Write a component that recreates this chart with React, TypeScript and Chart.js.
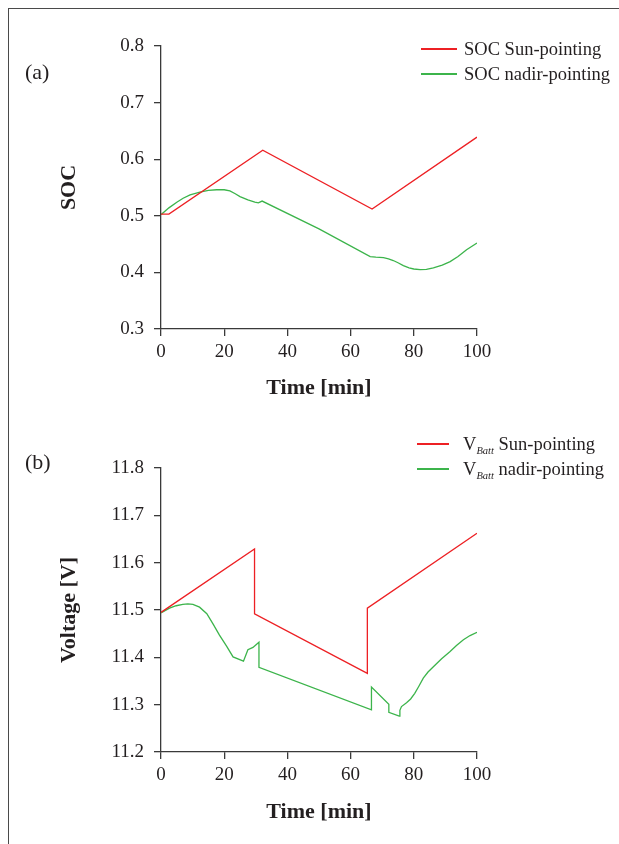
import React, { useEffect, useRef } from "react";
import { Chart, registerables } from "chart.js";

Chart.register(...registerables);

// ---------- data ----------
const timeTicks = [0, 20, 40, 60, 80, 100];
const socTickValues = [0.3, 0.4, 0.5, 0.6, 0.7, 0.8];
const voltTickValues = [11.2, 11.3, 11.4, 11.5, 11.6, 11.7, 11.8];

const socSunT = [0, 2.5, 32.2, 66.8, 100];
const socSunV = [0.503, 0.503, 0.616, 0.512, 0.639];

const socNadirT = [0, 2.5, 5, 7, 9.2, 12.3, 15, 17.6, 20, 21.8, 23.5, 25, 27.5, 29.7, 30.8, 32, 50, 66.2, 68, 70.4, 72, 73.5, 75, 76.7, 78.5, 80, 82, 84, 86.2, 89, 91.5, 94, 96.7, 100];
const socNadirV = [0.502, 0.514, 0.524, 0.531, 0.537, 0.542, 0.545, 0.546, 0.546, 0.544, 0.539, 0.534, 0.528, 0.524, 0.523, 0.526, 0.477, 0.428, 0.427, 0.426, 0.424, 0.421, 0.417, 0.412, 0.408, 0.406, 0.405, 0.4055, 0.408, 0.413, 0.419, 0.428, 0.44, 0.452];

const vSunT = [0, 29.6, 29.6, 65.3, 65.3, 100];
const vSunV = [11.495, 11.629, 11.492, 11.366, 11.504, 11.662];

const vNadirT = [0, 2.7, 4.8, 6.9, 8.5, 10.1, 12.2, 14.5, 16.5, 18.5, 20.7, 22.8, 26.1, 27.5, 29.1, 31, 31, 66.6, 66.6, 72.1, 72.1, 75.4, 75.6, 76.1, 77.7, 79, 80.3, 81.6, 83, 84.5, 86.2, 88.8, 91.4, 93.5, 95.7, 97.8, 100];
const vNadirV = [11.494, 11.504, 11.509, 11.512, 11.513, 11.512, 11.506, 11.492, 11.47, 11.447, 11.424, 11.401, 11.392, 11.416, 11.421, 11.432, 11.379, 11.289, 11.337, 11.301, 11.284, 11.276, 11.288, 11.296, 11.304, 11.312, 11.324, 11.339, 11.356, 11.369, 11.38, 11.397, 11.412, 11.425, 11.437, 11.446, 11.453];

// ---------- styles ----------
const RED = "#ed2024";
const GREEN = "#3cb44b";
const AXIS = "#3a3a3a";
const TEXT = "#231f20";
const FONT = "'Liberation Serif', 'DejaVu Serif', serif";

const toPoints = (t: number[], v: number[]) => t.map((x, i) => ({ x, y: v[i] }));

type PanelOpts = {
  width: number;
  height: number;
  sunT: number[];
  sunV: number[];
  nadirT: number[];
  nadirV: number[];
  yTicks: number[];
  yTitle: string;
  padTop: number;
  yTitlePad: number;
  xScaleHeight: number;
  padBottom: number;
};

function makeConfig(o: PanelOpts): any {
  const yMin = o.yTicks[0];
  const yMax = o.yTicks[o.yTicks.length - 1];
  return {
    type: "line",
    data: {
      datasets: [
        {
          label: "Sun-pointing",
          data: toPoints(o.sunT, o.sunV),
          borderColor: RED,
          borderWidth: 1.3,
          pointRadius: 0,
          tension: 0,
          fill: false,
        },
        {
          label: "nadir-pointing",
          data: toPoints(o.nadirT, o.nadirV),
          borderColor: GREEN,
          borderWidth: 1.3,
          pointRadius: 0,
          tension: 0,
          fill: false,
        },
      ],
    },
    options: {
      animation: false,
      responsive: false,
      parsing: false,
      layout: { padding: { left: 20, right: 142, top: o.padTop, bottom: o.padBottom } },
      plugins: { legend: { display: false }, tooltip: { enabled: false } },
      scales: {
        x: {
          type: "linear",
          min: timeTicks[0],
          max: timeTicks[timeTicks.length - 1],
          afterBuildTicks: (s: any) => {
            s.ticks = timeTicks.map((v) => ({ value: v }));
          },
          afterFit: (s: any) => {
            s.height = o.xScaleHeight;
          },
          grid: { drawOnChartArea: false, drawTicks: true, tickLength: 7, color: AXIS, lineWidth: 1.3 },
          border: { display: true, color: AXIS, width: 1.3 },
          ticks: {
            padding: 5,
            color: TEXT,
            font: { family: FONT, size: 19 },
            maxRotation: 0,
            callback: (v: any) => String(v),
          },
          title: {
            display: true,
            text: "Time [min]",
            color: TEXT,
            font: { family: FONT, size: 22, weight: "bold" },
            padding: { top: 0, bottom: 0 },
          },
        },
        y: {
          type: "linear",
          min: yMin,
          max: yMax,
          afterBuildTicks: (s: any) => {
            s.ticks = o.yTicks.map((v) => ({ value: v }));
          },
          afterFit: (s: any) => {
            s.width = 141;
          },
          grid: { drawOnChartArea: false, drawTicks: true, tickLength: 7, color: AXIS, lineWidth: 1.3 },
          border: { display: true, color: AXIS, width: 1.3 },
          ticks: {
            padding: 10,
            color: TEXT,
            font: { family: FONT, size: 19 },
            callback: (v: any) => Number(v).toFixed(1),
          },
          title: {
            display: true,
            text: o.yTitle,
            color: TEXT,
            font: { family: FONT, size: 22, weight: "bold" },
            padding: { top: o.yTitlePad, bottom: 0 },
          },
        },
      },
    },
  };
}

function Panel({ opts, top }: { opts: PanelOpts; top: number }) {
  const ref = useRef<HTMLCanvasElement | null>(null);
  useEffect(() => {
    if (!ref.current) return;
    const chart = new Chart(ref.current, makeConfig(opts));
    return () => chart.destroy();
  }, []);
  return (
    <canvas
      ref={ref}
      width={opts.width}
      height={opts.height}
      style={{ position: "absolute", left: 0, top, width: opts.width, height: opts.height, display: "block" }}
    />
  );
}

const lineSample = (color: string, w: number, gap: number) => (
  <span
    style={{
      display: "block",
      flex: "none",
      alignSelf: "flex-start",
      marginTop: 11,
      width: w,
      height: 2,
      background: color,
      marginRight: gap,
    }}
  />
);

export default function App() {
  const topOpts: PanelOpts = {
    width: 619,
    height: 420,
    sunT: socSunT,
    sunV: socSunV,
    nadirT: socNadirT,
    nadirV: socNadirV,
    yTicks: socTickValues,
    yTitle: "SOC",
    padTop: 46,
    yTitlePad: 36,
    xScaleHeight: 72.2,
    padBottom: 18.8,
  };
  const botOpts: PanelOpts = {
    width: 619,
    height: 424,
    sunT: vSunT,
    sunV: vSunV,
    nadirT: vNadirT,
    nadirV: vNadirV,
    yTicks: voltTickValues,
    yTitle: "Voltage [V]",
    padTop: 48,
    yTitlePad: 36,
    xScaleHeight: 73.2,
    padBottom: 18.8,
  };

  const rowStyle: React.CSSProperties = { display: "flex", alignItems: "center", height: 25, whiteSpace: "nowrap" };
  const sub = <sub style={{ fontStyle: "italic", fontSize: 10.5, verticalAlign: "-4px", lineHeight: 0 }}>Batt</sub>;

  return (
    <div style={{ position: "fixed", left: 0, top: 0, width: 619, height: 844, overflow: "hidden", background: "#fff" }}>
      <div
        style={{
          position: "absolute",
          left: 8,
          top: 8,
          width: 800,
          height: 1000,
          borderLeft: "1.5px solid #4a4a4a",
          borderTop: "1.5px solid #4a4a4a",
        }}
      />
      <Panel opts={topOpts} top={0} />
      <Panel opts={botOpts} top={420} />

      <div style={{ position: "absolute", left: 25, top: 59, fontFamily: FONT, fontSize: 22, lineHeight: "26px", color: TEXT }}>(a)</div>
      <div style={{ position: "absolute", left: 25, top: 449, fontFamily: FONT, fontSize: 22, lineHeight: "26px", color: TEXT }}>(b)</div>

      <div style={{ position: "absolute", left: 421, top: 37, fontFamily: FONT, fontSize: 18.5, color: TEXT }}>
        <div style={rowStyle}>{lineSample(RED, 36, 7)}SOC Sun-pointing</div>
        <div style={rowStyle}>{lineSample(GREEN, 36, 7)}SOC nadir-pointing</div>
      </div>

      <div style={{ position: "absolute", left: 417, top: 432, fontFamily: FONT, fontSize: 18.5, color: TEXT }}>
        <div style={rowStyle}>{lineSample(RED, 32, 14)}<span>V{sub} Sun-pointing</span></div>
        <div style={rowStyle}>{lineSample(GREEN, 32, 14)}<span>V{sub} nadir-pointing</span></div>
      </div>
    </div>
  );
}
